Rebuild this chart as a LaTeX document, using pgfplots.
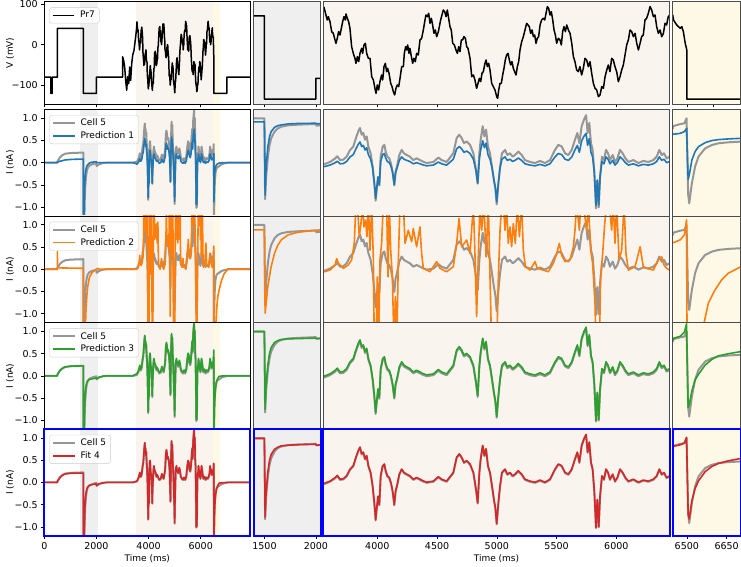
\documentclass[border=0pt]{standalone}
\usepackage{fontspec}
\setmainfont{DejaVu Sans}
\usepackage{pgfplots}
\usepackage{pgfplotstable}
\pgfplotsset{compat=1.18}
\definecolor{cgray}{RGB}{150,150,150}
\definecolor{tblue}{HTML}{1F77B4}
\definecolor{torange}{HTML}{FF7F0E}
\definecolor{tgreen}{HTML}{2CA02C}
\definecolor{tred}{HTML}{D62728}
\definecolor{bggray}{HTML}{EFEFEF}
\definecolor{bgbeige}{HTML}{F9F4EE}
\definecolor{bgyellow}{HTML}{FEF9E7}

\pgfplotstableread{
t V
0 -80
250 -80
250 -120
300 -120
300 -80
500 -80
500 40
1500 40
1500 -120
2000 -120
2000 -80
3000 -80
3006 -30
3045 -39
3083 -55
3122 -88
3160 -112
3198 -79
3237 -96
3275 -55
3313 -88
3352 -47
3390 -26
3441 -14
3480 6
3518 27
3543 43
3554 56.2
3570 41.5
3581 31.9
3590 38.3
3604 28.7
3618 9.5
3632 6.3
3646 -6.5
3654 -12.9
3665 -3.3
3676 9.5
3688 3.1
3696 12.7
3710 28.7
3721 38.3
3732 31.9
3738 43.4
3749 35.1
3760 28.7
3771 15.9
3785 -19.3
3799 -32.1
3813 -41.7
3821 -51.3
3833 -38.5
3844 -48.1
3855 -32.1
3869 -22.5
3877 -32.1
3888 -16.1
3900 -12.9
3911 -32.1
3925 -41.7
3939 -41.7
3953 -76.9
3967 -83.3
3980 -99.3
3989 -108.9
4000 -92.9
4011 -102.5
4022 -86.5
4036 -73.7
4045 -83.3
4056 -57.7
4067 -51.3
4078 -67.3
4086 -60.9
4098 -70.5
4112 -89.7
4123 -96.1
4134 -105.7
4145 -112.1
4156 -99.3
4167 -92.9
4179 -96.1
4190 -80.1
4204 -57.7
4218 -57.7
4226 -32.1
4237 -19.3
4246 -25.7
4254 -16.1
4265 -32.1
4273 -22.5
4285 -38.5
4296 -51.3
4307 -41.7
4318 -48.1
4329 -32.1
4343 -35.3
4357 -6.5
4371 -3.3
4385 12.7
4399 31.9
4407 41.5
4418 38.3
4430 44.7
4441 25.5
4452 35.1
4463 22.3
4474 6.3
4485 12.7
4497 -0.1
4511 9.5
4519 19.1
4530 31.9
4541 41.5
4552 51.1
4564 47.9
4575 38.3
4586 51.1
4597 35.1
4608 19.1
4619 12.7
4631 -12.9
4645 -16.1
4658 -25.7
4670 -32.1
4681 -19.3
4692 -28.9
4703 -6.5
4714 -6.5
4725 -0.1
4737 -3.3
4748 -19.3
4759 -22.5
4776 -41.7
4790 -76.9
4804 -73.7
4817 -83.3
4831 -99.3
4843 -89.7
4854 -80.1
4865 -86.5
4876 -70.5
4887 -67.3
4901 -51.3
4910 -44.9
4921 -57.7
4932 -51.3
4943 -64.1
4957 -89.7
4971 -96.1
4985 -102.5
4999 -115.3
5007 -118.5
5016 -102.5
5027 -89.7
5038 -89.7
5049 -73.7
5060 -60.9
5071 -44.9
5082 -35.3
5094 -32.1
5105 -44.9
5116 -54.5
5127 -48.1
5138 -60.9
5149 -67.3
5161 -73.7
5172 -57.7
5183 -48.1
5194 -25.7
5208 -9.7
5222 -0.1
5236 12.7
5250 25.5
5261 22.3
5272 19.1
5283 6.3
5295 12.7
5306 -0.1
5317 3.1
5328 -12.9
5339 -3.3
5350 -0.1
5362 22.3
5375 31.9
5389 35.1
5401 31.9
5412 44.7
5423 57.5
5434 54.3
5445 41.5
5456 47.9
5468 31.9
5479 12.7
5490 3.1
5501 -12.9
5515 -3.3
5529 -6.5
5540 -16.1
5551 9.5
5562 19.1
5574 9.5
5585 22.3
5599 12.7
5613 6.3
5627 -12.9
5641 -38.5
5654 -48.1
5668 -64.1
5682 -67.3
5696 -57.7
5710 -73.7
5724 -60.9
5738 -41.7
5752 -44.9
5766 -57.7
5780 -48.1
5794 -70.5
5808 -89.7
5822 -99.3
5836 -102.5
5850 -115.3
5864 -112.1
5878 -96.1
5892 -99.3
5906 -76.9
5920 -64.1
5933 -54.5
5947 -67.3
5961 -41.7
5975 -44.9
5989 -57.7
6003 -67.3
6017 -86.5
6031 -76.9
6045 -64.1
6059 -54.5
6073 -35.3
6087 -16.1
6101 -6.5
6115 12.7
6129 9.5
6143 -0.1
6157 6.3
6171 -12.9
6185 -25.7
6199 -12.9
6212 -0.1
6226 3.1
6240 31.9
6254 35.1
6268 44.7
6282 57.5
6296 51.1
6310 38.3
6324 41.5
6338 19.1
6352 6.3
6366 12.7
6380 -0.1
6394 6.3
6408 25.5
6421 22.3
6435 38.3
6447 41.5
6450 31.9
6462 22.3
6475 15.9
6481 19.1
6487 9.5
6494 -12.9
6500 -25.7
6500 -120
7000 -120
7000 -80
7900 -80
}\volt

\pgfplotstableread{
t c p1 p3 p4
0 0 0 0 0
500 0 0 0 0
505 0.03 0.01 0.03 0.03
550 0.07 0.02 0.07 0.06
600 0.12 0.03 0.12 0.11
700 0.17 0.045 0.17 0.16
800 0.2 0.06 0.2 0.19
1000 0.215 0.07 0.215 0.205
1200 0.22 0.075 0.22 0.21
1499 0.225 0.08 0.225 0.21
1506 -3.15 -2.97 -3.01 -3.07
1516 -2.21 -1.79 -1.98 -2.0
1533 -1.375 -0.96 -1.15 -1.17
1549 -0.89 -0.54 -0.69 -0.7
1565 -0.61 -0.33 -0.44 -0.45
1598 -0.33 -0.15 -0.23 -0.24
1631 -0.19 -0.08 -0.15 -0.15
1663 -0.125 -0.05 -0.11 -0.1
1729 -0.067 -0.01 -0.08 -0.07
1827 -0.04 0.01 -0.07 -0.05
1999 -0.01 0.02 -0.05 -0.03
2005 -0.08 0.0 -0.07 -0.07
2100 -0.04 0.0 -0.03 -0.03
2250 -0.01 0.0 -0.01 -0.01
2400 0.0 0.0 0.0 0.0
3400 0.0 0.0 0.0 0.0
3500 0.01 -0.02 0.03 0.02
3554 0.02 -0.036 0.05 0.035
3604 0.075 0.001 0.105 0.09
3646 0.155 0.055 0.185 0.17
3665 0.21 0.093 0.24 0.225
3688 0.12 0.032 0.15 0.135
3715 0.13 0.038 0.16 0.145
3743 0.2 0.086 0.23 0.215
3771 0.355 0.191 0.385 0.37
3799 0.44 0.249 0.47 0.455
3821 0.64 0.385 0.67 0.655
3841 0.8 0.494 0.83 0.815
3855 0.88 0.548 0.91 0.895
3869 0.72 0.44 0.75 0.735
3883 0.76 0.467 0.79 0.775
3897 0.6 0.358 0.63 0.615
3911 0.68 0.412 0.71 0.695
3925 0.44 0.249 0.47 0.455
3944 0.28 0.14 0.31 0.295
3961 -0.04 -0.066 -0.01 -0.025
3975 -0.44 -0.426 -0.41 -0.425
3986 -0.84 -0.786 -0.81 -0.825
3994 -0.6 -0.57 -0.57 -0.585
4006 -0.28 -0.282 -0.25 -0.265
4017 -0.48 -0.462 -0.45 -0.465
4028 0.2 0.086 0.23 0.215
4045 0.44 0.249 0.47 0.455
4059 0.48 0.276 0.51 0.495
4070 0.32 0.168 0.35 0.335
4084 0.2 0.086 0.23 0.215
4100 0.16 0.059 0.19 0.175
4114 0.04 -0.023 0.07 0.055
4128 -0.16 -0.174 -0.13 -0.145
4142 -0.48 -0.462 -0.45 -0.465
4153 -0.16 -0.174 -0.13 -0.145
4167 0.0 -0.05 0.03 0.015
4184 0.24 0.113 0.27 0.255
4204 0.36 0.195 0.39 0.375
4223 0.28 0.14 0.31 0.295
4246 0.24 0.113 0.27 0.255
4273 0.2 0.086 0.23 0.215
4301 0.12 0.032 0.15 0.135
4329 0.16 0.059 0.19 0.175
4357 0.12 0.032 0.15 0.135
4385 0.08 0.004 0.11 0.095
4413 0.05 -0.016 0.08 0.065
4469 0.075 0.001 0.105 0.09
4511 0.18 0.072 0.21 0.195
4538 0.12 0.032 0.15 0.135
4580 0.075 0.001 0.105 0.09
4636 0.28 0.14 0.31 0.295
4664 0.64 0.385 0.67 0.655
4686 0.72 0.44 0.75 0.735
4706 0.64 0.385 0.67 0.655
4725 0.52 0.304 0.55 0.535
4748 0.56 0.331 0.59 0.575
4776 0.48 0.276 0.51 0.495
4804 0.28 0.14 0.31 0.295
4826 -0.12 -0.138 -0.09 -0.105
4840 -0.44 -0.426 -0.41 -0.425
4854 0.28 0.14 0.31 0.295
4865 0.6 0.358 0.63 0.615
4882 0.92 0.576 0.95 0.935
4896 0.68 0.412 0.71 0.695
4910 0.84 0.521 0.87 0.855
4926 0.44 0.249 0.47 0.455
4943 0.28 0.14 0.31 0.295
4960 -0.04 -0.066 -0.01 -0.025
4976 -0.36 -0.354 -0.33 -0.345
4988 -0.56 -0.534 -0.53 -0.545
4999 -0.93 -0.867 -0.9 -0.915
5013 -0.44 -0.426 -0.41 -0.425
5027 -0.04 -0.066 -0.01 -0.025
5043 0.28 0.14 0.31 0.295
5069 0.36 0.195 0.39 0.375
5088 0.24 0.113 0.27 0.255
5110 0.28 0.14 0.31 0.295
5133 0.2 0.086 0.23 0.215
5152 0.24 0.113 0.27 0.255
5180 0.32 0.168 0.35 0.335
5208 0.24 0.113 0.27 0.255
5236 0.12 0.032 0.15 0.135
5278 0.075 0.001 0.105 0.09
5320 0.05 -0.016 0.08 0.065
5362 0.1 0.018 0.13 0.115
5403 0.05 -0.016 0.08 0.065
5445 0.12 0.032 0.15 0.135
5487 0.36 0.195 0.39 0.375
5515 0.48 0.276 0.51 0.495
5543 0.44 0.249 0.47 0.455
5571 0.28 0.14 0.31 0.295
5599 0.24 0.113 0.27 0.255
5627 0.36 0.195 0.39 0.375
5654 0.6 0.358 0.63 0.615
5674 0.76 0.467 0.79 0.775
5691 0.52 0.304 0.55 0.535
5710 0.92 0.576 0.95 0.935
5730 1.08 0.684 1.11 1.095
5747 1.18 0.752 1.21 1.195
5760 0.76 0.467 0.79 0.775
5774 1.0 0.63 1.03 1.015
5788 0.52 0.304 0.55 0.535
5802 0.36 0.195 0.39 0.375
5816 -0.16 -0.174 -0.13 -0.145
5830 -1.02 -0.948 -0.99 -1.005
5841 -0.36 -0.354 -0.33 -0.345
5853 -1.0 -0.93 -0.97 -0.985
5864 -0.28 -0.282 -0.25 -0.265
5880 0.2 0.086 0.23 0.215
5897 0.12 0.032 0.15 0.135
5914 0.36 0.195 0.39 0.375
5931 0.28 0.14 0.31 0.295
5947 0.12 0.032 0.15 0.135
5970 0.24 0.113 0.27 0.255
5989 0.075 0.001 0.105 0.09
6009 0.16 0.059 0.19 0.175
6031 0.36 0.195 0.39 0.375
6053 0.28 0.14 0.31 0.295
6076 0.16 0.059 0.19 0.175
6101 0.075 0.001 0.105 0.09
6143 0.12 0.032 0.15 0.135
6185 0.05 -0.016 0.08 0.065
6226 0.1 0.018 0.13 0.115
6268 0.075 0.001 0.105 0.09
6310 0.12 0.032 0.15 0.135
6338 0.2 0.086 0.23 0.215
6360 0.36 0.195 0.39 0.375
6380 0.24 0.113 0.27 0.255
6399 0.28 0.14 0.31 0.295
6421 0.16 0.059 0.19 0.175
6447 0.2 0.086 0.23 0.215
6450 0.25 0.073 0.27 0.24
6475 0.29 0.094 0.31 0.27
6491 0.307 0.13 0.4 0.31
6499 0.414 0.2 0.58 0.43
6505 -1.2 -0.884 -1.204 -1.2
6509 -1.395 -0.8 -1.15 -1.31
6519 -0.97 -0.474 -0.848 -0.92
6531 -0.614 -0.295 -0.62 -0.66
6544 -0.401 -0.189 -0.495 -0.495
6569 -0.225 -0.104 -0.3 -0.3
6594 -0.155 -0.06 -0.18 -0.19
6619 -0.118 -0.04 -0.104 -0.125
6656 -0.097 -0.025 -0.06 -0.07
6704 -0.082 -0.012 -0.012 -0.018
6750 -0.06 -0.008 -0.008 -0.012
6800 -0.04 -0.005 -0.005 -0.008
6900 -0.02 0.0 0.0 -0.004
7000 -0.01 0.0 0.0 0.0
7045 0.0 0.0 0.0 0.0
7900 0.0 0.0 0.0 0.0
}\cur

\pgfplotstableread{
t p2
0 0
500 0
502 0.4
508 0.03
1499 0.02
1506 -3.45
1533 -2.32
1565 -1.51
1598 -0.95
1631 -0.61
1663 -0.4
1729 -0.19
1827 -0.08
1925 -0.03
2045 0.02
2100 0
3500 0
3554 0
3604 0.04
3646 0.16
3660 0.31
3674 0.2
3715 0.08
3757 0.16
3785 0.28
3807 0.67
3821 1.6
3833 1.6
3849 0.83
3863 1.14
3877 1.6
3888 1.06
3902 1.22
3913 0.83
3925 1.6
3939 0.51
3953 1.6
3967 0.28
3975 -1.8
3989 -1.8
4000 -0.12
4011 -1.8
4022 0.28
4036 0.67
4050 1.6
4067 1.6
4078 1.6
4089 -0.12
4100 1.6
4112 0.51
4126 -0.12
4140 -1.8
4151 -0.59
4162 -1.8
4176 0.28
4190 1.6
4218 1.6
4232 0.67
4259 0.98
4287 0.71
4301 1.02
4329 0.59
4357 1.06
4371 0.43
4385 0.08
4441 0.0
4497 0.24
4525 0.08
4580 0.0
4636 0.12
4664 0.67
4684 1.26
4706 0.59
4748 0.75
4776 0.43
4804 1.6
4817 0.43
4831 -1.06
4845 0.35
4859 1.6
4873 0.98
4893 1.6
4910 0.35
4929 1.6
4943 -0.12
4957 -1.8
4999 -1.8
5013 -0.12
5027 0.98
5041 1.6
5055 1.6
5069 0.98
5082 1.6
5096 0.67
5110 1.06
5124 0.59
5138 1.14
5155 0.67
5172 1.6
5189 0.83
5208 1.6
5222 0.51
5239 0.12
5278 0.04
5320 0.24
5339 0.08
5389 0.04
5431 0.0
5473 0.2
5501 0.43
5523 0.67
5543 0.39
5571 0.24
5613 0.28
5641 0.59
5654 0.98
5668 1.6
5691 0.98
5702 1.6
5724 1.6
5752 0.98
5766 1.6
5786 0.51
5802 0.2
5822 -0.75
5830 -1.8
5858 -1.8
5869 -0.12
5886 0.43
5903 1.14
5920 1.6
5942 1.6
5961 0.98
5975 1.6
5989 0.67
6003 1.6
6023 0.28
6045 0.51
6065 1.6
6081 0.43
6101 0.04
6129 0.08
6157 0.12
6185 0.43
6199 0.59
6226 0.12
6260 0.08
6310 0.04
6352 0.28
6380 0.35
6399 0.16
6421 0.08
6447 0.04
6450 0.037
6475 0.094
6491 0.2
6499 0.52
6501 -2.2
6520 -2.5
6545 -2.0
6566 -1.64
6581 -1.25
6606 -0.97
6631 -0.757
6656 -0.614
6704 -0.474
6800 -0.25
6900 -0.1
7000 -0.03
7040 0.0
7900 0.0
}\orng

\newcommand{\fnt}{\fontsize{9}{10.8}\selectfont}
\newcommand{\tfnt}{\fontsize{9.5}{11}\selectfont}

\pgfplotsset{
  P/.style={scale only axis, anchor=north west, axis on top, clip=true,
    tick align=outside, xtick pos=bottom, ytick pos=left,
    major tick length=3pt, every tick/.style={black, line width=0.6pt},
    axis line style={line width=0.8pt},
    xticklabels={}, tick label style={font=\tfnt}, label style={font=\fnt}},
  C1/.style={P, width=206pt, xmin=0, xmax=7902, xtick={0,2000,4000,6000}},
  C2/.style={P, width=66.8pt, xmin=1395, xmax=2045, xtick={1500,2000}, ytick=\empty,
    axis background/.style={fill=bggray}, axis line style={black!70}},
  C3/.style={P, width=346.4pt, xmin=3548, xmax=6447, xtick={4000,4500,5000,5500,6000}, ytick=\empty,
    axis background/.style={fill=bgbeige}, axis line style={black!70}},
  C4/.style={P, width=67.8pt, xmin=6447, xmax=6702, ytick=\empty,
    axis background/.style={fill=bgyellow}, axis line style={black!70}},
  BL/.style={axis line style={blue, line width=2pt}},
  XL/.style={xlabel style={at={(axis description cs:0.5,-0.2186)}, anchor=center}},
  YL/.style={ylabel style={at={(axis description cs:-0.1665,0.5)}, anchor=center}},
  C1N/.style={}, C1L/.style={xticklabels={0,2000,4000,6000}, xlabel={Time (ms)}, XL, BL},
  C2N/.style={}, C2L/.style={xticklabels={1500,2000}, BL},
  C3N/.style={}, C3L/.style={xticklabels={4000,4500,5000,5500,6000}, xlabel={Time (ms)}, XL, BL},
  C4N/.style={xtick={6500,6600}}, C4L/.style={xtick={6500,6650}, xticklabels={6500,6650}, BL},
  LEG/.style={legend cell align=left,
    legend image code/.code={\draw[##1] (0pt,0pt) -- (21.7pt,0pt);},
    legend style={at={(axis description cs:0,1)}, anchor=north west, xshift=5pt, yshift=-5.7pt,
      draw=black!20, fill=white, fill opacity=0.8, draw opacity=1, text opacity=1,
      rounded corners=2.5pt, inner xsep=2.5pt, inner ysep=2pt, font=\fnt,
      nodes={inner xsep=2pt, inner ysep=1.8pt},
      /tikz/every odd column/.append style={column sep=3pt}, row sep=0.8pt}},
}

\newcommand{\shades}[2]{%
\addplot[draw=none, fill=bggray, forget plot] coordinates {(1380,#1) (1380,#2) (2060,#2) (2060,#1)} -- cycle;
\addplot[draw=none, fill=bgbeige, forget plot] coordinates {(3530,#1) (3530,#2) (6462,#2) (6462,#1)} -- cycle;
\addplot[draw=none, fill=bgyellow, forget plot] coordinates {(6462,#1) (6462,#2) (6733,#2) (6733,#1)} -- cycle;
}

\newcommand{\currow}[6]{%
\begin{axis}[C1, C1#6, at={(44.3pt,-#1pt)}, height=106.6pt, ymin=-1.2, ymax=1.2,
  ytick={-1,-0.5,0,0.5,1}, yticklabels={−1.0,−0.5,0.0,0.5,1.0}, ylabel={I (nA)}, YL, LEG]
\shades{-3}{3}
\addplot[color=cgray, line width=2pt, line join=round] table[x=t,y=c]{\cur}; \addlegendentry{Cell 5}
\addplot[color=#4, line width=1.6pt, line join=round] table[x=t,y=#3]{#2}; \addlegendentry{#5}
\end{axis}
\begin{axis}[C2, C2#6, at={(253.7pt,-#1pt)}, height=106.6pt, ymin=-3.84, ymax=0.6]
\addplot[color=cgray, line width=2pt, line join=round] table[x=t,y=c]{\cur};
\addplot[color=#4, line width=1.6pt, line join=round] table[x=t,y=#3]{#2};
\end{axis}
\begin{axis}[C3, C3#6, at={(323.3pt,-#1pt)}, height=106.6pt, ymin=-1.2, ymax=1.32]
\addplot[color=cgray, line width=2pt, line join=round] table[x=t,y=c]{\cur};
\addplot[color=#4, line width=1.6pt, line join=round] table[x=t,y=#3]{#2};
\end{axis}
\begin{axis}[C4, C4#6, at={(672.7pt,-#1pt)}, height=106.6pt, ymin=-1.663, ymax=0.605]
\addplot[color=cgray, line width=2pt, line join=round] table[x=t,y=c]{\cur};
\addplot[color=#4, line width=1.6pt, line join=round] table[x=t,y=#3]{#2};
\end{axis}
}

\begin{document}
\begin{tikzpicture}[font=\fnt]
\useasboundingbox (0,0) rectangle (741pt,-566pt);
% Row 1: voltage protocol
\begin{axis}[C1, at={(44.3pt,-1.7pt)}, height=102.6pt, ymin=-146.7, ymax=105.7,
  ytick={-100,0,100}, yticklabels={−100,0,100}, ylabel={V (mV)}, YL, LEG]
\shades{-300}{300}
\addplot[color=black, line width=1.5pt, line join=round] table[x=t,y=V]{\volt}; \addlegendentry{Pr7}
\end{axis}
\begin{axis}[C2, at={(253.7pt,-1.7pt)}, height=102.6pt, ymin=-130, ymax=67]
\addplot[color=black, line width=1.5pt, line join=round] table[x=t,y=V]{\volt};
\end{axis}
\begin{axis}[C3, at={(323.3pt,-1.7pt)}, height=102.6pt, ymin=-130, ymax=67]
\addplot[color=black, line width=1.5pt, line join=round] table[x=t,y=V]{\volt};
\end{axis}
\begin{axis}[C4, C4N, at={(672.7pt,-1.7pt)}, height=102.6pt, ymin=-130, ymax=67]
\addplot[color=black, line width=1.5pt, line join=round] table[x=t,y=V]{\volt};
\end{axis}
% Current rows
\currow{109.3}{\cur}{p1}{tblue}{Prediction 1}{N}
\currow{215.9}{\orng}{p2}{torange}{Prediction 2}{N}
\currow{322.5}{\cur}{p3}{tgreen}{Prediction 3}{N}
\currow{429.1}{\cur}{p4}{tred}{Fit 4}{L}
\end{tikzpicture}
\end{document}
